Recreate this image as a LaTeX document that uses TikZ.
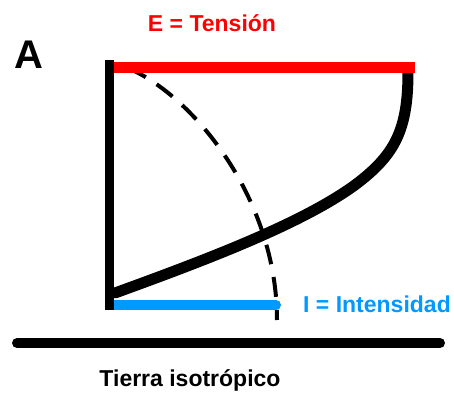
\documentclass[tikz,border=0pt]{standalone}
\usepackage{fontspec}
\setmainfont{Liberation Sans}
\definecolor{tensionred}{RGB}{255,0,0}
\definecolor{intblue}{RGB}{0,153,255}
\usetikzlibrary{positioning}

\begin{document}
\begin{tikzpicture}[x=1pt, y=-1pt,
	lbl/.style={font=\bfseries\fontsize{23}{27}\selectfont, inner sep=0pt, anchor=base},
	bar/.style={line width=10pt},
	curve/.style={line width=11pt, line cap=round}]
	\useasboundingbox (0,0) rectangle (454,393);
	% puntos base
	\coordinate (top) at (109.5,60);
	\coordinate (bot) at (109.5,310);
	\coordinate (gl) at (17,343);
	\coordinate (gr) at (440,343);
	% textos
	\node[lbl, font=\bfseries\fontsize{40}{44}\selectfont] (A) at (29,69) {A};
	\node[lbl, text=tensionred] (E) at (212,32) {E = Tensión};
	\node[lbl, text=intblue] (I) at (377,312) {I = Intensidad};
	\node[lbl] (tierra) at (190,386.5) {Tierra isotrópico};
	% curvas
	\draw[line width=4pt, dash pattern=on 20pt off 13pt] (128,68) .. controls (195,97) and (277,200) .. (277,320);
	\draw[curve] (115,293) .. controls (200,262) and (300,225) .. (355,185)
		.. controls (395,155) and (408,130) .. (408,72);
	\draw[line width=11pt, tensionred] (114,67.5) -- (415,67.5);
	\draw[bar, intblue, line cap=round] (112,305) -- (276,305);
	% ejes
	\draw[line width=9pt] (top) -- (bot);
	\draw[bar, line cap=round] (gl) -- (gr);
\end{tikzpicture}
\end{document}
